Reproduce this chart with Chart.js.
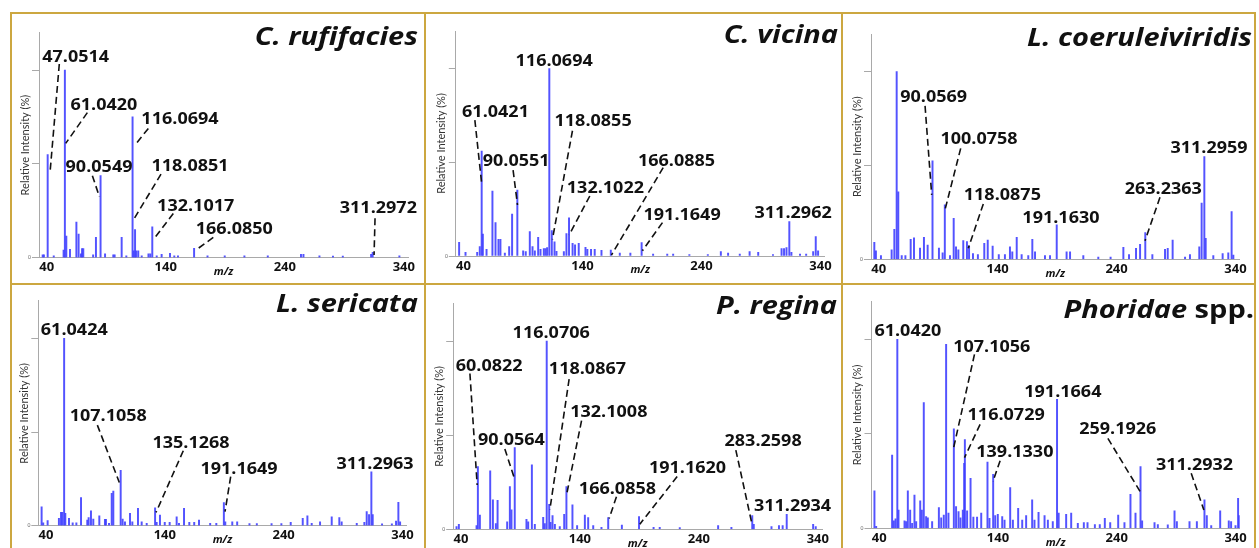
<!DOCTYPE html>
<html>
<head>
<meta charset="utf-8">
<script src="https://cdn.jsdelivr.net/npm/chart.js@4.4.1/dist/chart.umd.min.js"></script>
<style>
html,body{margin:0;padding:0;background:#fff;}
#wrap{position:relative;width:1259px;height:548px;overflow:hidden;background:#fff;}
#wrap canvas{position:absolute;}
.ln{position:absolute;background:#CCA740;z-index:5;}
</style>
</head>
<body>
<div id="wrap">
  <div class="ln" style="left:10px;top:12px;width:1246px;height:2px"></div>
  <div class="ln" style="left:10px;top:12px;width:2px;height:540px"></div>
  <div class="ln" style="left:1254px;top:12px;width:2px;height:540px"></div>
  <div class="ln" style="left:424px;top:12px;width:2px;height:540px"></div>
  <div class="ln" style="left:841px;top:12px;width:2px;height:540px"></div>
  <div class="ln" style="left:10px;top:283px;width:1246px;height:2px"></div>
</div>
<script>
// ---------- shared tick labels ----------
const xTickValues = [40, 140, 240, 340];
const yTickValues = [0, 50, 100];

// ---------- C. rufifacies ----------
const crufMz  = [43, 44, 47.05, 52, 60, 61.04, 62.2, 65.2, 70.4, 72.2, 74.1, 75, 76, 84, 86.3, 90.05, 93.7, 100.4, 101.5, 107.2, 111, 116.07, 117, 118.09, 119, 120.7, 123.5, 129, 130.5, 132.1, 135.7, 139.7, 146.5, 150, 153, 166.09, 177, 191, 207, 226, 253, 255, 268, 279, 287, 310, 311.3, 333];
const crufInt = [1.5, 1.5, 55, 1, 4, 100, 11.5, 4.4, 19, 12.6, 2, 4.8, 4.8, 1.5, 10.8, 43.7, 2, 1.5, 1.5, 10.8, 1, 75, 3.7, 15, 3.7, 3.7, 1, 2, 2, 16.5, 1, 1.8, 2.3, 1, 1, 5, 1, 1, 1, 1, 1.8, 1.8, 1, 0.8, 0.8, 1.8, 2.8, 1];

// ---------- C. vicina ----------
const cvicMz  = [42.7, 47.9, 57.4, 59.5, 61.04, 62, 65, 69.8, 72.3, 74.7, 76.3, 79.9, 83.4, 85.8, 90.06, 94.8, 96.9, 100.2, 102.4, 104.3, 107, 108.9, 111.6, 113, 114.3, 116.07, 118.09, 120.3, 121.9, 127.9, 130, 132.1, 135, 137, 140, 145.5, 147, 150, 153, 158.5, 166.09, 173.4, 182, 191.16, 200.5, 212, 216.8, 230, 245, 255.6, 261.5, 271, 279, 286, 298, 305, 307, 309, 311.3, 313, 320, 325, 330.7, 332.8, 334.7];
const cvicInt = [7.3, 2, 2, 5, 56, 11.7, 3.5, 34.6, 17.8, 8.9, 8.9, 1.5, 5, 22.4, 35.2, 2.7, 2.3, 13, 5, 2.7, 10, 3.5, 4, 4, 4.5, 100, 13.5, 7.6, 2.5, 2.3, 12, 20.4, 6.7, 6, 6.7, 4.6, 3.5, 3.5, 3.5, 3, 3.2, 1.5, 1.5, 7.1, 1, 1, 1, 0.7, 0.7, 2.3, 1.5, 1, 2.3, 2, 0.7, 4, 4, 4.5, 18.3, 2, 1, 1, 2.3, 10.3, 2.8];

// ---------- L. coeruleiviridis ----------
const lcoeMz  = [42.7, 44, 48.1, 56.8, 59, 60.9, 62.2, 65, 68, 72.3, 75, 79.9, 83.1, 86.1, 90.06, 95.3, 98.3, 100.08, 104.3, 107.3, 109.2, 111.1, 115.1, 118.09, 119.8, 123, 127, 132.2, 135, 139, 144, 149, 153.1, 155, 158.6, 162.6, 168, 171.3, 173.5, 181.6, 185.7, 191.16, 199.2, 202, 212.8, 225, 235, 245.4, 250, 255.7, 259, 263.24, 269, 279.3, 281.5, 285.5, 295.6, 299.6, 307.2, 309.1, 311.3, 312.4, 318.6, 326.2, 330.8, 333.5, 334.9];
const lcoeInt = [9, 4.5, 2, 5, 16, 100, 36, 2, 2, 10.7, 11.5, 6, 11.7, 7.6, 52.4, 6, 3.5, 29, 2, 21.8, 6.7, 5, 10, 9.4, 7, 3, 2.5, 8.5, 10.3, 7, 2.5, 2.5, 6.7, 4, 11.7, 2.5, 2, 10.6, 4, 2, 2, 18.3, 4, 4, 2, 1.2, 1.2, 6.4, 2.5, 5.8, 8, 14.2, 2.5, 5.3, 5.8, 10.3, 1.2, 2.5, 6.7, 30, 54.7, 11.2, 2, 3, 3.5, 25.4, 2.3];

// ---------- L. sericata ----------
const lserMz  = [42.7, 44, 47.6, 56.8, 58.5, 59.6, 61.04, 62, 65, 68, 71, 74.8, 79.9, 81, 82.9, 84.8, 89.7, 94.3, 95.1, 97.6, 99.8, 101.1, 107.1, 108.7, 110.6, 114.7, 116.6, 121.2, 124.2, 128.3, 135.13, 136.4, 139.1, 143, 147, 152.7, 154.6, 158.7, 163, 167, 170.9, 180, 185, 191.16, 192.3, 198, 202, 212, 218, 230, 238, 245.6, 255.4, 259.2, 262.7, 269.5, 279, 285.2, 287.1, 299.4, 305.6, 307.5, 309.4, 311.3, 312.4, 320, 328, 331.4, 333.3, 334.7];
const lserInt = [10.1, 1.5, 2.7, 3.9, 7.1, 7.1, 100, 6.6, 3.9, 1.5, 1.5, 15, 3, 4.3, 8, 3.6, 5.3, 3.4, 3.4, 1.3, 17.3, 18.5, 29.5, 3.6, 2.1, 6.6, 2.1, 9.3, 2.1, 1.3, 9.6, 1.8, 5.7, 1.8, 1.8, 4.8, 1.3, 9.3, 1.8, 1.8, 3, 1.3, 1.3, 12.3, 2.1, 2.1, 2.1, 1.1, 1.1, 1.1, 1.1, 1.8, 3.9, 5.3, 1.3, 2.1, 4.8, 4.4, 2.1, 1.3, 1.8, 7.5, 6, 28.8, 6, 1, 1, 2.5, 12.5, 2.1];

// ---------- P. regina ----------
const pregMz  = [42.7, 44.6, 59, 60.08, 61.7, 70.1, 72.3, 74.7, 76.1, 83.9, 86.1, 87.4, 90.06, 99.6, 101, 104, 106.4, 113.2, 114.5, 116.07, 118.09, 119.2, 120.8, 122.7, 126.7, 130.3, 132.1, 137, 140.8, 147.1, 149.8, 153.9, 160.6, 166.09, 177.2, 191.16, 203, 208, 224.3, 255.5, 266.3, 283.26, 284.5, 298.9, 305, 308, 311.3, 332.8, 334.9];
const pregInt = [1.4, 2.7, 2, 33.3, 7.6, 31, 15.6, 3, 15.4, 4, 22.7, 10.3, 43.4, 5.3, 4, 34.2, 2.7, 6.4, 3, 100, 13.3, 3.7, 7.3, 2.7, 1.4, 8, 22.7, 13, 2, 7.6, 6.2, 2, 1, 6.2, 2.3, 6.7, 1, 1, 0.9, 2, 1, 7.3, 2.7, 1.4, 2, 2, 8, 2.7, 1.4];

// ---------- Phoridae spp. ----------
const phorMz  = [42.4, 43.8, 56.8, 58.2, 59.6, 61.04, 62, 66.9, 68.2, 69.6, 71.5, 73.1, 75, 76.4, 79.7, 81, 82.6, 84.5, 85.9, 89.4, 94.9, 96.8, 98.9, 100.8, 102.7, 107.1, 108.9, 110.9, 112.5, 114.4, 115.5, 116.07, 117.9, 120.7, 123, 126, 129.4, 134.5, 136.1, 139.13, 140.8, 142.9, 146.5, 148.4, 153, 155.2, 159.5, 162.8, 166, 170.9, 172.8, 176.1, 181, 183.7, 187.7, 191.17, 192.5, 198.6, 202.7, 208.1, 213, 216, 222, 226, 230.1, 234.5, 241, 246.1, 251, 255.1, 259.19, 260.5, 270.6, 273.3, 281.4, 286.9, 288.8, 299.1, 305.1, 311.29, 313.2, 316.8, 324.1, 331.1, 333, 336.6, 338.7, 339.5];
const phorInt = [19.8, 1, 38.8, 3.9, 5, 100, 9.7, 3.9, 3.5, 19.8, 9.7, 2.6, 17.6, 3.5, 14.5, 9.7, 66.5, 6.2, 5.6, 3.5, 10.9, 5.6, 7, 97.4, 8, 52.6, 11.5, 8.8, 5.6, 9.7, 34.4, 47, 9.2, 26.5, 6, 6, 8, 35, 5.3, 28.6, 6.7, 7.4, 6.2, 4.4, 21.5, 4.4, 10.6, 4.4, 6.7, 15, 4.4, 8.5, 6.7, 4.4, 3.5, 68.3, 8, 7.4, 8, 2.6, 3, 3, 2, 2, 5.3, 3, 7, 3, 18, 8, 32.6, 3.9, 3, 2, 1.8, 9.2, 3.5, 3.5, 3.5, 15, 6.7, 1.4, 9.2, 3.9, 3.5, 1.4, 15.9, 6.7];

// ---------- peak annotations (label placement in data units) ----------
const crufNotes = [
  {t:'47.0514', lx:69.8, ly:104.4, x1:56.5, y1:103.2, x2:48.9, y2:44.9},
  {t:'61.0420', lx:92.8, ly:78.7, x1:79.3, y1:77.3, x2:61.7, y2:60.9},
  {t:'116.0694', lx:154.6, ly:71.2, x1:128.9, y1:68.9, x2:118.0, y2:60.0},
  {t:'90.0549', lx:88.8, ly:45.8, x1:83.4, y1:43.7, x2:89.1, y2:32.5},
  {t:'118.0851', lx:162.8, ly:46.4, x1:139.2, y1:44.5, x2:116.7, y2:20.1},
  {t:'132.1017', lx:167.4, ly:25.0, x1:149.2, y1:23.6, x2:134.3, y2:10.8},
  {t:'166.0850', lx:198.8, ly:12.4, x1:181.7, y1:10.8, x2:167.6, y2:4.1},
  {t:'311.2972', lx:315.9, ly:23.6, x1:313.2, y1:21.0, x2:312.4, y2:1.4}
];
const cvicNotes = [
  {t:'116.0694', lx:120.0, ly:101.4},
  {t:'61.0421', lx:72.3, ly:74.2, x1:55.5, y1:72.5, x2:60.9, y2:39.6},
  {t:'118.0855', lx:151.7, ly:69.3, x1:134.9, y1:66.8, x2:118.6, y2:8.9},
  {t:'90.0551', lx:89.1, ly:48.1, x1:86.6, y1:45.8, x2:90.2, y2:27.2},
  {t:'132.1022', lx:161.7, ly:33.4, x1:149, y1:32, x2:132.2, y2:11.2},
  {t:'166.0885', lx:219.5, ly:48.1, x1:208.7, y1:47.1, x2:166.6, y2:0.5},
  {t:'191.1649', lx:224.1, ly:19.2, x1:208.1, y1:17.8, x2:191.8, y2:2.8},
  {t:'311.2962', lx:314.4, ly:20.1}
];
const lcoeNotes = [
  {t:'90.0569', lx:91.0, ly:84.0, x1:84, y1:81.7, x2:89.4, y2:34.3},
  {t:'100.0758', lx:127.9, ly:61.3, x1:113, y1:59.1, x2:100.2, y2:26.3},
  {t:'118.0875', lx:146.9, ly:31.6, x1:131.4, y1:29.5, x2:119.2, y2:5.9},
  {t:'191.1630', lx:194.6, ly:19.5},
  {t:'263.2363', lx:277.9, ly:34.8, x1:275.2, y1:33, x2:263, y2:9.9},
  {t:'311.2959', lx:315.1, ly:56.5}
];
const lserNotes = [
  {t:'61.0424', lx:69.3, ly:101.8},
  {t:'107.1058', lx:97, ly:56, x1:88.1, y1:53.7, x2:106, y2:23.1},
  {t:'135.1268', lx:164.4, ly:41.3, x1:158.1, y1:40, x2:135.9, y2:7.1},
  {t:'191.1649', lx:203.5, ly:27.6, x1:196.7, y1:26.2, x2:192.1, y2:7.5},
  {t:'311.2963', lx:314.3, ly:30.2}
];
const pregNotes = [
  {t:'116.0706', lx:119.7, ly:101.4},
  {t:'60.0822', lx:69.3, ly:84.1, x1:53.6, y1:82.8, x2:59.5, y2:23.5},
  {t:'118.0867', lx:149.2, ly:82.3, x1:134.3, y1:79.8, x2:118.6, y2:10.3},
  {t:'132.1008', lx:166.6, ly:59.8, x1:144.4, y1:57.7, x2:132.2, y2:18.2},
  {t:'90.0564', lx:87.4, ly:44.8, x1:82, y1:42.7, x2:89.3, y2:28},
  {t:'283.2598', lx:292.1, ly:44.4, x1:269.9, y1:42.1, x2:282.6, y2:4.1},
  {t:'191.1620', lx:230.6, ly:29.7, x1:222.2, y1:28, x2:191.8, y2:2.7},
  {t:'166.0858', lx:173.6, ly:18.6, x1:172.8, y1:17.3, x2:166.9, y2:5.8},
  {t:'311.2934', lx:316, ly:9.9}
];
const phorNotes = [
  {t:'61.0420', lx:69.6, ly:101.8},
  {t:'107.1056', lx:138, ly:93.5, x1:123.9, y1:92, x2:106.8, y2:42.3},
  {t:'191.1664', lx:195.9, ly:69.7},
  {t:'116.0729', lx:149.7, ly:57.3, x1:128.5, y1:55, x2:115.8, y2:37.4},
  {t:'139.1330', lx:156.8, ly:37.6, x1:144.8, y1:35.8, x2:138.9, y2:24.7},
  {t:'259.1926', lx:240.7, ly:49.7, x1:232.6, y1:47.6, x2:258.9, y2:19.4},
  {t:'311.2932', lx:303.2, ly:30.9, x1:300.5, y1:29.1, x2:310.8, y2:9.7}
];

// ---------- layout / style ----------
const BAR = 'rgba(64,64,255,0.9)';
const AXIS = '#a9a9a9';
const INK = '#111111';
const FONT = 'Lato';
const NOTE_FONT = 'bold 18px "Open Sans"';
const TITLE_FONT = '"Open Sans"';
const SQUASH = 0.85;

const panels = [
  {title:[['C. rufifacies', true]], mz:crufMz, it:crufInt, notes:crufNotes, box:[12,14,413,270], area:[39,32.5,408,257.7], tr:7, tb:31},
  {title:[['C. vicina', true]], mz:cvicMz, it:cvicInt, notes:cvicNotes, box:[426,14,415,270], area:[455.8,31,824.6,256], tr:3, tb:29.3},
  {title:[['L. coeruleiviridis', true]], mz:lcoeMz, it:lcoeInt, notes:lcoeNotes, box:[842,14,413,270], area:[871,34,1239.6,259.3], tr:3, tb:31.5},
  {title:[['L. sericata', true]], mz:lserMz, it:lserInt, notes:lserNotes, box:[12,285,413,263], area:[38.3,300.9,406.6,525.7], tr:7, tb:27.3},
  {title:[['P. regina', true]], mz:pregMz, it:pregInt, notes:pregNotes, box:[426,285,415,263], area:[453.2,303.4,822,529.3], tr:4, tb:29.3},
  {title:[['Phoridae', true], [' spp.', false]], mz:phorMz, it:phorInt, notes:phorNotes, box:[842,285,413,263], area:[871.5,301.5,1239.7,528.3], tr:1, tb:32.5}
];

function squashText(ctx, text, x, y, font, align) {
  ctx.save();
  ctx.translate(x, y);
  ctx.scale(1, SQUASH);
  ctx.font = font;
  ctx.textAlign = align;
  ctx.textBaseline = 'alphabetic';
  ctx.fillStyle = INK;
  ctx.fillText(text, 0, 0);
  ctx.restore();
}

const notesPlugin = {
  id: 'peakNotes',
  afterDraw(chart) {
    const p = chart.options.plugins.peakNotes;
    const ctx = chart.ctx;
    const xs = chart.scales.x, ys = chart.scales.y;
    ctx.save();
    ctx.strokeStyle = INK;
    ctx.lineWidth = 1.6;
    ctx.setLineDash([7, 4]);
    p.notes.forEach(n => {
      if (n.x1 === undefined) return;
      ctx.beginPath();
      ctx.moveTo(xs.getPixelForValue(n.x1), ys.getPixelForValue(n.y1));
      ctx.lineTo(xs.getPixelForValue(n.x2), ys.getPixelForValue(n.y2));
      ctx.stroke();
    });
    ctx.restore();
    p.notes.forEach(n => {
      squashText(ctx, n.t, xs.getPixelForValue(n.lx), ys.getPixelForValue(n.ly), NOTE_FONT, 'center');
    });
    let x = chart.width - p.tr;
    const parts = p.title.slice().reverse();
    parts.forEach(([txt, ital]) => {
      const f = (ital ? 'italic ' : '') + 'bold 29px ' + TITLE_FONT;
      ctx.save();
      ctx.font = f;
      const w = ctx.measureText(txt).width;
      ctx.restore();
      squashText(ctx, txt, x, p.tb, f, 'right');
      x -= w;
    });
  }
};

const wrap = document.getElementById('wrap');

panels.forEach(p => {
  const canvas = document.createElement('canvas');
  canvas.width = p.box[2];
  canvas.height = p.box[3];
  canvas.style.left = p.box[0] + 'px';
  canvas.style.top = p.box[1] + 'px';
  wrap.appendChild(canvas);
  const bx = {left:p.box[0], top:p.box[1], right:p.box[0]+p.box[2], bottom:p.box[1]+p.box[3]};
  const ar = {left:p.area[0], top:p.area[1], right:p.area[2], bottom:p.area[3]};
  const xtSize = 11, ytSize = 11;
  const xTitlePadBottom = bx.bottom - (ar.bottom + 14.2) - xtSize * 1.2 / 2;
  const yTitlePadTop = (ar.left - 14 - bx.left) - ytSize * 1.2 / 2;

  new Chart(canvas, {
    type: 'bar',
    data: {
      datasets: [{
        data: p.mz.map((m, i) => ({x: m, y: p.it[i]})),
        backgroundColor: BAR,
        borderWidth: 0,
        barThickness: 1.3,
        xAxisID: 'x',
        yAxisID: 'y'
      }]
    },
    options: {
      responsive: false,
      animation: false,
      events: [],
      layout: {padding: {top: ar.top - bx.top, right: bx.right - ar.right, left: 0, bottom: 0}},
      plugins: {
        legend: {display: false},
        tooltip: {enabled: false},
        peakNotes: {notes: p.notes, title: p.title, tr: p.tr, tb: p.tb}
      },
      scales: {
        x: {
          type: 'linear', position: 'bottom', min: 40, max: 340, weight: 0, offset: false,
          ticks: {display: false},
          grid: {display: false, drawTicks: false, offset: false},
          border: {display: true, color: AXIS, width: 1},
          afterFit: s => { s.height = 0; s.paddingLeft = 0; s.paddingRight = 0; }
        },
        x2: {
          type: 'linear', position: 'bottom', min: 33.5, max: 343.5, weight: 1, offset: false,
          grid: {display: false, drawTicks: false, offset: false},
          border: {display: false},
          afterBuildTicks: s => { s.ticks = xTickValues.map(v => ({value: v})); },
          ticks: {font: {family: '"Open Sans"', size: 13, weight: 'bold'}, color: INK, padding: 2, maxRotation: 0, autoSkip: false},
          title: {display: true, text: 'm/z', font: {family: '"Open Sans"', size: xtSize, style: 'italic', weight: 'bold'}, color: INK,
                  padding: {top: 0, bottom: xTitlePadBottom}},
          afterFit: s => { s.height = bx.bottom - ar.bottom; s.paddingLeft = 0; s.paddingRight = 0; }
        },
        y: {
          type: 'linear', min: 0, max: 120,
          afterBuildTicks: s => { s.ticks = yTickValues.map(v => ({value: v})); },
          ticks: {callback: v => (v === 0 ? '0' : ''), font: {family: FONT, size: 5}, color: '#666', padding: 1},
          grid: {display: true, drawOnChartArea: false, drawTicks: true, tickLength: 7, color: AXIS},
          border: {display: true, color: AXIS, width: 1},
          title: {display: true, text: 'Relative Intensity (%)', font: {family: FONT, size: ytSize}, color: '#333',
                  padding: {top: yTitlePadTop, bottom: 0}},
          afterFit: s => { s.width = ar.left - bx.left; s.paddingTop = 0; s.paddingBottom = 0; }
        }
      }
    },
    plugins: [notesPlugin]
  });
});
</script>
</body>
</html>
